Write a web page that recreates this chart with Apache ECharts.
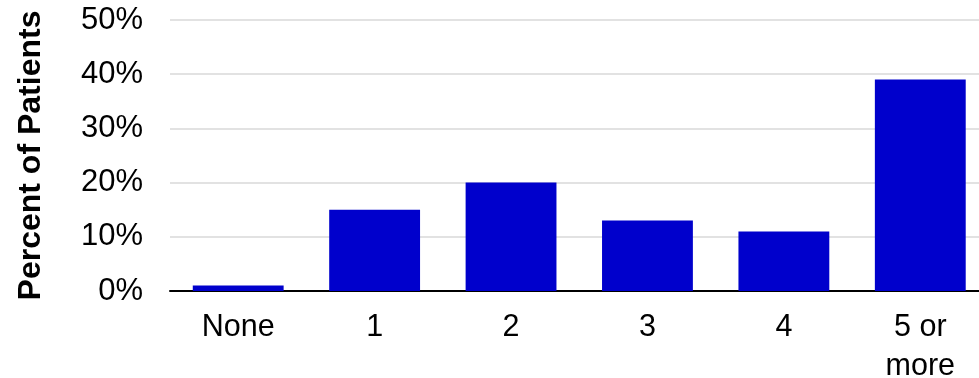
<!DOCTYPE html>
<html>
<head>
<meta charset="utf-8">
<style>
  html, body { margin: 0; padding: 0; background: #ffffff; }
  #chart { width: 979px; height: 378px; }
</style>
<script src="https://cdn.jsdelivr.net/npm/echarts@6/dist/echarts.min.js"></script>
</head>
<body>
<div id="chart"></div>
<script>
const categories = ["None", "1", "2", "3", "4", "5 or\nmore"];
const percentPatients = [1, 15, 20, 13, 11, 39];
const yAxisTitle = "Percent of Patients";
const yTickValues = [0, 10, 20, 30, 40, 50];

const chart = echarts.init(document.getElementById("chart"));
const FONT = "'Liberation Sans', Arial, Helvetica, sans-serif";

chart.setOption({
  animation: false,
  backgroundColor: "#ffffff",
  grid: {
    left: 170, right: -9.5, top: 20, bottom: 87,
    containLabel: false,
    outerBoundsMode: "none"
  },
  xAxis: {
    type: "category",
    data: categories,
    axisLine: { show: true, lineStyle: { color: "#000000", width: 2 } },
    axisTick: { show: false },
    axisLabel: {
      color: "#000000",
      fontFamily: FONT,
      fontSize: 30.5,
      lineHeight: 39,
      margin: 17,
      interval: 0
    }
  },
  yAxis: {
    type: "value",
    min: yTickValues[0],
    max: yTickValues[yTickValues.length - 1],
    interval: yTickValues[1] - yTickValues[0],
    name: yAxisTitle,
    nameLocation: "middle",
    nameRotate: 90,
    nameGap: 123,
    nameTextStyle: {
      color: "#000000",
      fontFamily: FONT,
      fontSize: 32,
      fontWeight: "bold"
    },
    axisLine: { show: false },
    axisTick: { show: false },
    splitLine: { show: true, lineStyle: { color: "#d9d9d9", width: 1.5 } },
    axisLabel: {
      color: "#000000",
      fontFamily: FONT,
      fontSize: 31,
      margin: 27,
      formatter: "{value}%"
    }
  },
  series: [{
    type: "bar",
    data: percentPatients,
    barWidth: "66.6%",
    itemStyle: { color: "#0000CC" }
  }]
});
</script>
</body>
</html>
